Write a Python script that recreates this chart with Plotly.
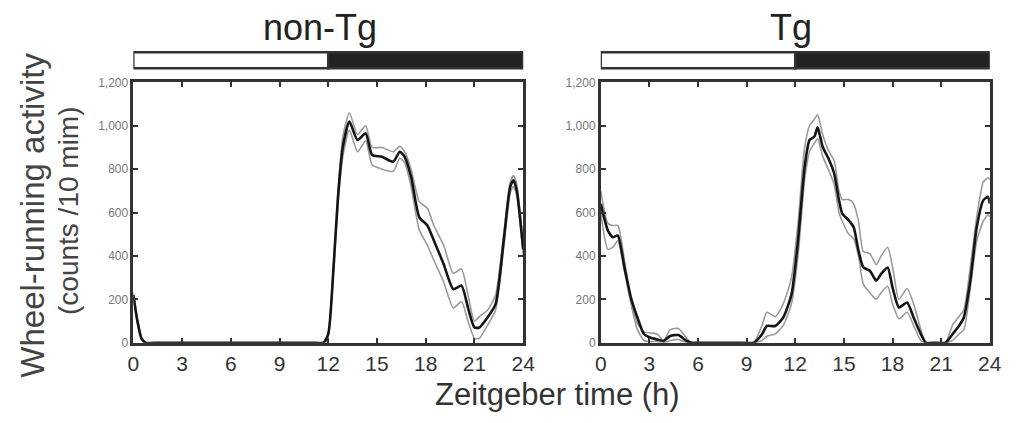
import plotly.graph_objects as go
from plotly.subplots import make_subplots

# Zeitgeber time (h) and wheel-running counts per 10 min
# --- non-Tg ---
ntg_x = [0, 0.25, 0.5, 0.75, 1.5, 3, 6, 9, 11, 11.7, 12.0, 12.3, 12.6, 12.9, 13.3, 13.8, 14.3,
         14.7, 15.3, 16.0, 16.4, 16.7, 17.1, 17.6, 18.1, 18.5, 19.1, 19.7, 20.2, 20.6, 21.0,
         21.3, 21.8, 22.3, 22.8, 23.2, 23.4, 23.6, 24]
ntg_mean = [220, 100, 20, 0, 0, 0, 0, 0, 0, 0, 40, 317, 672, 903, 1019, 934, 965,
            865, 857, 834, 880, 857, 764, 579, 540, 471, 363, 247, 263, 162, 70,
            70, 116, 178, 471, 718, 749, 703, 430]
ntg_upper = [230, 110, 25, 0, 0, 0, 0, 0, 0, 0, 45, 330, 700, 950, 1060, 960, 1000,
             900, 900, 880, 905, 880, 800, 650, 620, 540, 450, 320, 340, 220, 100,
             120, 150, 220, 500, 740, 770, 730, 450]
ntg_lower = [210, 90, 15, 0, 0, 0, 0, 0, 0, 0, 35, 300, 640, 860, 980, 880, 930,
             820, 800, 790, 850, 830, 720, 520, 450, 380, 280, 160, 190, 100, 20,
             20, 80, 150, 440, 690, 720, 680, 400]

# --- Tg ---
tg_x = [0, 0.44, 0.75, 1.05, 1.46, 1.86, 2.26, 2.67, 3.07, 3.48, 3.88, 4.29, 4.79, 5.3, 5.6,
        6.5, 7.5, 8.5, 9.44, 9.95, 10.25, 10.76, 11.26, 11.77, 12.17, 12.58, 12.88, 13.18,
        13.38, 13.69, 14.09, 14.4, 14.7, 14.9, 15.3, 15.6, 15.9, 16.2, 16.6, 17.0, 17.3,
        17.7, 18.0, 18.4, 18.9, 19.3, 19.75, 20.06, 20.6, 21.27, 21.7, 22.1, 22.4, 22.8,
        23.2, 23.6, 23.9, 24]
tg_mean = [640, 517, 486, 494, 347, 208, 116, 39, 23, 15, 8, 31, 35, 8, 0,
           0, 0, 0, 0, 39, 77, 77, 116, 224, 471, 811, 934, 950,
           993, 903, 842, 780, 656, 595, 564, 533, 425, 347, 332, 286, 317,
           347, 255, 162, 185, 116, 39, 0, 0, 0, 39, 77, 116, 286,
           533, 656, 672, 641]
tg_upper = [700, 550, 540, 540, 380, 200, 90, 50, 45, 40, 10, 60, 65, 20, 0,
            0, 0, 0, 0, 80, 140, 120, 180, 300, 550, 900, 1000, 1030,
            1050, 960, 880, 840, 700, 660, 660, 640, 560, 420, 410, 360, 400,
            440, 350, 200, 250, 180, 60, 0, 0, 0, 80, 120, 150, 350,
            580, 740, 760, 750]
tg_lower = [600, 430, 440, 470, 330, 180, 60, 10, 5, 5, 0, 10, 15, 0, 0,
            0, 0, 0, 0, 10, 30, 40, 80, 180, 400, 750, 880, 920,
            940, 860, 790, 730, 600, 560, 500, 480, 400, 270, 230, 200, 230,
            260, 180, 110, 140, 80, 10, 0, 0, 0, 10, 40, 60, 250,
            470, 560, 590, 580]

groups = ["non-Tg", "Tg"]
light_dark = [(0, 12, "white"), (12, 24, "#222222")]
x_ticks = [0, 3, 6, 9, 12, 15, 18, 21, 24]
y_ticks = [0, 200, 400, 600, 800, 1000, 1200]

series = [
    (ntg_x, ntg_mean, ntg_upper, ntg_lower),
    (tg_x, tg_mean, tg_upper, tg_lower),
]

fig = make_subplots(rows=1, cols=2)

for i, (xs, mean, up, lo) in enumerate(series, start=1):
    for ys in (up, lo):
        fig.add_trace(go.Scatter(x=xs, y=ys, mode="lines",
                                 line=dict(color="#9a9a9a", width=1.6, shape="spline", smoothing=0.6),
                                 showlegend=False, hoverinfo="skip"), row=1, col=i)
    fig.add_trace(go.Scatter(x=xs, y=mean, mode="lines",
                             line=dict(color="#151515", width=2.6, shape="spline", smoothing=0.6),
                             showlegend=False), row=1, col=i)

doms = [[0.1209, 0.5159], [0.5945, 0.9886]]
for i in (1, 2):
    fig.update_xaxes(domain=doms[i - 1], range=[0, 24], tickvals=x_ticks,
                     ticks="inside", ticklen=5, tickwidth=1.5, tickcolor="#333",
                     showline=True, linewidth=2.5, linecolor="#333", mirror="ticks",
                     showgrid=False, zeroline=False,
                     tickfont=dict(family="Liberation Sans, Arial", size=21, color="#333"),
                     row=1, col=i)
    fig.update_yaxes(domain=[0.1662, 0.8286], range=[0, 1200], tickvals=y_ticks,
                     tickformat=",", ticks="inside", ticklen=5, tickwidth=1.5, tickcolor="#333",
                     showline=True, linewidth=2.5, linecolor="#333", mirror="ticks",
                     showgrid=False, zeroline=False,
                     tickfont=dict(family="Liberation Sans Narrow, Arial Narrow, Arial", size=12, color="#777"),
                     row=1, col=i)

# light/dark bars above each panel
shapes = []
for xref in ("x", "x2"):
    for x0, x1, c in light_dark:
        shapes.append(dict(type="rect", xref=xref, yref="paper", x0=x0, x1=x1,
                           y0=0.8645, y1=0.9054, fillcolor=c,
                           line=dict(color="#333", width=2.5), layer="above"))

annotations = []
centers = [0.3100, 0.7876]
for g, cx in zip(groups, centers):
    annotations.append(dict(text=g, x=cx, y=0.969, xref="paper", yref="paper",
                            showarrow=False, xanchor="center", yanchor="middle",
                            font=dict(family="Liberation Sans Narrow, Arial Narrow, Arial", size=36, color="#222")))
annotations += [
    dict(text="Wheel-running activity", x=0.0179, y=0.491, xref="paper", yref="paper",
         textangle=-90, showarrow=False, xanchor="center", yanchor="middle",
         font=dict(family="Liberation Sans, Arial", size=33, color="#444")),
    dict(text="(counts /10 mim)", x=0.0547, y=0.5038, xref="paper", yref="paper",
         textangle=-90, showarrow=False, xanchor="center", yanchor="middle",
         font=dict(family="Liberation Sans, Arial", size=28, color="#444")),
    dict(text="Zeitgeber time (h)", x=0.5502, y=0.034, xref="paper", yref="paper",
         showarrow=False, xanchor="center", yanchor="middle",
         font=dict(family="Liberation Sans, Arial", size=31, color="#333")),
]

fig.update_layout(width=1005, height=407, margin=dict(l=0, r=0, t=0, b=0),
                  plot_bgcolor="white", paper_bgcolor="white",
                  shapes=shapes, annotations=annotations)

fig.write_html("out.html")
